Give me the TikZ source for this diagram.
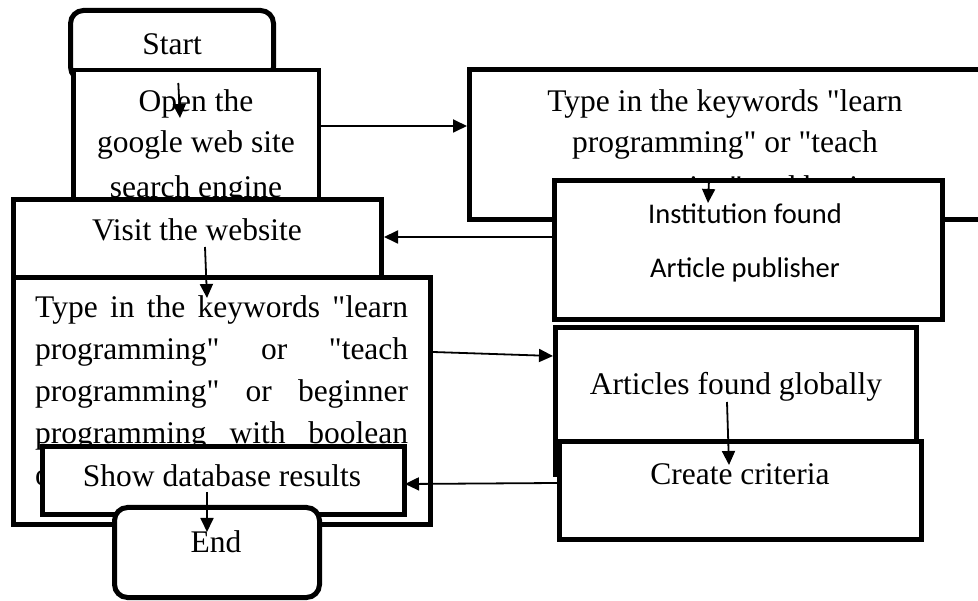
\documentclass[tikz,border=0pt]{standalone}
\usepackage{fontspec}
\setmainfont{Liberation Serif}[Ligatures=TeXOff]
\newfontfamily\calib{Carlito}
\usetikzlibrary{arrows.meta}
\begin{document}
\begin{tikzpicture}[x=1pt,y=-1pt,
  box/.style={draw=black, fill=white, line width=5pt, inner sep=0pt, outer sep=0pt, rectangle},
  term/.style={box, rounded corners=13pt},
  lbl/.style={inner sep=0pt, anchor=base, font=\fontsize{31.5}{42}\selectfont},
  jlbl/.style={inner sep=0pt, anchor=base west, font=\fontsize{31.5}{42}\selectfont},
  slbl/.style={inner sep=0pt, anchor=base, font=\calib\fontsize{28.5}{34}\selectfont},
  conn/.style={line width=1.8pt, -{Triangle[length=14pt,width=13pt]}}
]
\useasboundingbox (0,0) rectangle (978,601);
\clip (0,0) rectangle (978,601);

% Start
\node[term, minimum width=203pt, minimum height=69.5pt] (start) at (172,45.25) {};
\node[lbl] (tstart) at (172,55) {Start};

% Open the google web site
\node[box, line width=4.5pt, minimum width=245.5pt, minimum height=169.75pt] (open) at (196,155.1) {};
\node[lbl] (topen1) at (196,112) {Open the};
\node[lbl] (topen2) at (196,153) {google web site};
\node[lbl] (topen3) at (196,198) {search engine};

% Top right keywords box
\node[box, minimum width=530.5pt, minimum height=150pt] (tr) at (734.75,144.5) {};
\node[lbl] (ttr1) at (725,112) {Type in the keywords "learn};
\node[lbl] (ttr2) at (725,153) {programming" or "teach};
\node[jlbl] (ttr3) at (558,197.5) {programming" and beginner};

% Institution
\node[box, minimum width=388pt, minimum height=139pt] (inst) at (748.5,250) {};
\node[slbl] (tinst1) at (745,224) {Institution found};
\node[slbl] (tinst2) at (745,278) {Article publisher};

% Visit the website
\node[box, minimum width=368pt, minimum height=90.5pt] (visit) at (197.5,244.75) {};
\node[lbl] (tvisit) at (197,241) {Visit the website};

% Big keywords box
\node[box, minimum width=417pt, minimum height=247pt] (big) at (222,401) {};
\node[jlbl] (tbig1) at (35,318) {\makebox[373pt][s]{Type in the keywords "learn}};
\node[jlbl] (tbig2) at (35,360) {\makebox[373pt][s]{programming" or "teach}};
\node[jlbl] (tbig3) at (35,402) {\makebox[373pt][s]{programming" or beginner}};
\node[jlbl] (tbig4) at (35,444) {\makebox[373pt][s]{programming with boolean}};
\node[jlbl] (tbig5) at (35,486) {operators};

% Show database results
\node[box, minimum width=362pt, minimum height=68pt] (show) at (223.5,480.5) {};
\node[lbl] (tshow) at (222,487) {Show database results};

% End
\node[term, minimum width=205pt, minimum height=90pt] (end) at (217,552.5) {};
\node[lbl] (tend) at (216,553) {End};

% Articles found globally
\node[box, line width=4.5pt, minimum width=361pt, minimum height=147pt] (art) at (736,401) {};
\node[lbl] (tart) at (736,395) {Articles found globally};

% Create criteria
\node[box, minimum width=362pt, minimum height=98pt] (crit) at (740.5,490.5) {};
\node[lbl] (tcrit) at (740,485) {Create criteria};

% connector end points
\coordinate (a1s) at (178.3,83);  \coordinate (a1e) at (180,118);
\coordinate (a2s) at (321,126);   \coordinate (a2e) at (467,126);
\coordinate (a3s) at (552,237);   \coordinate (a3e) at (384,237);
\coordinate (a4s) at (205,247);   \coordinate (a4e) at (207,298);
\coordinate (a5s) at (709,180);   \coordinate (a5e) at (708,203);
\coordinate (a6s) at (433,352);   \coordinate (a6e) at (553,356);
\coordinate (a7s) at (727,402);   \coordinate (a7e) at (729,465);
\coordinate (a8s) at (557,483);   \coordinate (a8e) at (405,484);
\coordinate (a9s) at (207,492);   \coordinate (a9e) at (207,532);

\draw[conn] (a1s) -- (a1e);
\draw[conn] (a2s) -- (a2e);
\draw[conn] (a3s) -- (a3e);
\draw[conn] (a4s) -- (a4e);
\draw[conn] (a5s) -- (a5e);
\draw[conn] (a6s) -- (a6e);
\draw[conn] (a7s) -- (a7e);
\draw[conn] (a8s) -- (a8e);
\draw[conn] (a9s) -- (a9e);
\end{tikzpicture}
\end{document}
